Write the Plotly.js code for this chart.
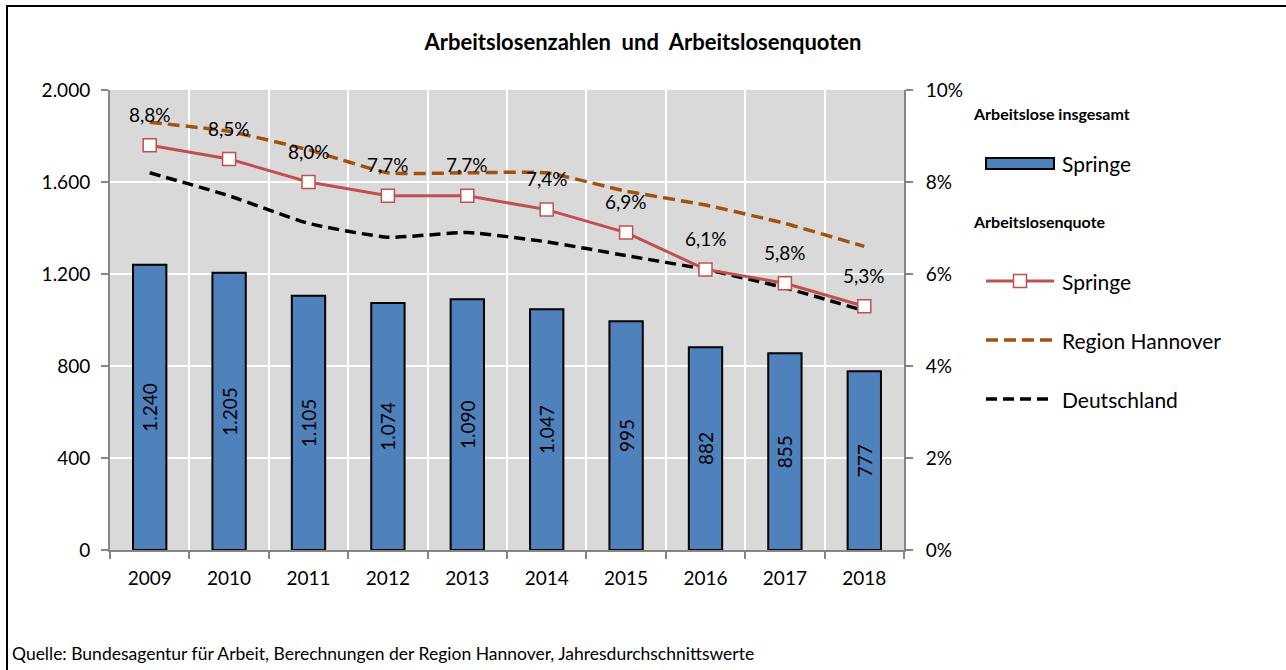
<!DOCTYPE html>
<html>
<head>
<meta charset="utf-8">
<script src="https://cdn.plot.ly/plotly-3.0.1.min.js"></script>
<style>
  html, body { margin: 0; padding: 0; background: #fff; }
  #wrap { position: relative; width: 1286px; height: 670px; overflow: hidden; }
  #chart { width: 1286px; height: 670px; }
  #frame { position: absolute; left: 6px; top: 5px; width: 1400px; height: 800px;
           border-left: 2px solid #000; border-top: 2px solid #000; pointer-events: none; }
</style>
</head>
<body>
<div id="wrap">
  <div id="chart"></div>
  <div id="frame"></div>
</div>
<script>
// ---- Data ----
const years = ['2009','2010','2011','2012','2013','2014','2015','2016','2017','2018'];
const arbeitsloseSpringe = [1240, 1205, 1105, 1074, 1090, 1047, 995, 882, 855, 777];
const quoteSpringe = [8.8, 8.5, 8.0, 7.7, 7.7, 7.4, 6.9, 6.1, 5.8, 5.3];
const quoteRegionHannover = [9.3, 9.1, 8.7, 8.2, 8.2, 8.2, 7.8, 7.5, 7.1, 6.6];
const quoteDeutschland = [8.2, 7.7, 7.1, 6.8, 6.9, 6.7, 6.4, 6.1, 5.7, 5.2];

const titleText = 'Arbeitslosenzahlen  und  Arbeitslosenquoten';
const sourceText = 'Quelle: Bundesagentur für Arbeit, Berechnungen der Region Hannover, Jahresdurchschnittswerte';
const legendGroup1 = 'Arbeitslose insgesamt';
const legendGroup2 = 'Arbeitslosenquote';
const seriesNames = ['Springe', 'Springe', 'Region Hannover', 'Deutschland'];

// ---- Styles ----
const FONT = 'Lato, "Open Sans", sans-serif';
const barColor = '#4f81bd';
const springeColor = '#c0504d';
const hannoverColor = '#a3520d';
const deColor = '#000000';
const axisColor = '#868686';

function pct(v) { return v.toFixed(1).replace('.', ',') + '%'; }

const traces = [
  {
    type: 'bar', x: years, y: arbeitsloseSpringe, name: seriesNames[0],
    width: 0.42,
    marker: { color: barColor, line: { color: '#000', width: 2 } },
    texttemplate: '%{y:,}', textposition: 'inside', insidetextanchor: 'middle',
    textangle: -90, constraintext: 'none',
    insidetextfont: { family: FONT, size: 19, color: '#000' },
    showlegend: false, hoverinfo: 'x+y'
  },
  {
    type: 'scatter', mode: 'lines', x: years, y: quoteRegionHannover, yaxis: 'y2',
    name: seriesNames[2], line: { color: hannoverColor, width: 3.5, dash: '12px,6px', shape: 'spline', smoothing: 0.45 },
    showlegend: false
  },
  {
    type: 'scatter', mode: 'lines', x: years, y: quoteDeutschland, yaxis: 'y2',
    name: seriesNames[3], line: { color: deColor, width: 3.5, dash: '11px,6px', shape: 'spline', smoothing: 0.5 },
    showlegend: false
  },
  {
    type: 'scatter', mode: 'lines+markers', x: years, y: quoteSpringe, yaxis: 'y2',
    name: seriesNames[1], line: { color: springeColor, width: 3 },
    marker: { symbol: 'square', size: 13, color: '#fff', line: { color: springeColor, width: 1.5 } },
    showlegend: false
  }
];

// value labels above the Springe line (x given as category index)
const annotations = years.map((yr, i) => ({
  x: i, y: quoteSpringe[i], xref: 'x', yref: 'y2',
  text: pct(quoteSpringe[i]), showarrow: false, yshift: 31,
  font: { family: FONT, size: 19, color: '#000' }
}));

// paper coordinate helpers for the legend block (plot area: x 110..904, y 90..550)
const L = 110, R = 904, T = 90, B = 550;
const px = v => (v - L) / (R - L);
const py = v => (B - v) / (B - T);

annotations.push(
  { xref: 'paper', yref: 'paper', x: px(971), y: py(113), xanchor: 'left', yanchor: 'middle',
    text: '<b>' + legendGroup1 + '</b>', showarrow: false, font: { family: FONT, size: 16, color: '#000' } },
  { xref: 'paper', yref: 'paper', x: px(971), y: py(221), xanchor: 'left', yanchor: 'middle',
    text: '<b>' + legendGroup2 + '</b>', showarrow: false, font: { family: FONT, size: 16, color: '#000' } },
  { xref: 'paper', yref: 'paper', x: px(1060), y: py(163), xanchor: 'left', yanchor: 'middle',
    text: seriesNames[0], showarrow: false, font: { family: FONT, size: 21, color: '#000' } },
  { xref: 'paper', yref: 'paper', x: px(1060), y: py(281), xanchor: 'left', yanchor: 'middle',
    text: seriesNames[1], showarrow: false, font: { family: FONT, size: 21, color: '#000' } },
  { xref: 'paper', yref: 'paper', x: px(1060), y: py(340), xanchor: 'left', yanchor: 'middle',
    text: seriesNames[2], showarrow: false, font: { family: FONT, size: 21, color: '#000' } },
  { xref: 'paper', yref: 'paper', x: px(1060), y: py(399), xanchor: 'left', yanchor: 'middle',
    text: seriesNames[3], showarrow: false, font: { family: FONT, size: 21, color: '#000' } },
  { xref: 'paper', yref: 'paper', x: px(10), y: py(653), xanchor: 'left', yanchor: 'middle',
    text: sourceText, showarrow: false, font: { family: FONT, size: 17.5, color: '#000' } }
);

const shapes = [
  { type: 'rect', xref: 'paper', yref: 'paper', x0: px(986), x1: px(1054), y0: py(169), y1: py(158),
    fillcolor: barColor, line: { color: '#000', width: 2 } },
  { type: 'line', xref: 'paper', yref: 'paper', x0: px(986), x1: px(1054), y0: py(281), y1: py(281),
    line: { color: springeColor, width: 3 } },
  { type: 'rect', xref: 'paper', yref: 'paper', x0: px(1013.5), x1: px(1026.5), y0: py(287.5), y1: py(274.5),
    fillcolor: '#fff', line: { color: springeColor, width: 1.5 } },
  { type: 'line', xref: 'paper', yref: 'paper', x0: px(986), x1: px(1054), y0: py(340), y1: py(340),
    line: { color: hannoverColor, width: 3.5, dash: '12px,6px' } },
  { type: 'line', xref: 'paper', yref: 'paper', x0: px(986), x1: px(1054), y0: py(399), y1: py(399),
    line: { color: deColor, width: 3.5, dash: '11px,6px' } }
];

const layout = {
  width: 1286, height: 670,
  margin: { l: L, r: 1286 - R, t: T, b: 670 - B, pad: 0 },
  paper_bgcolor: '#fff', plot_bgcolor: '#d9d9d9',
  separators: ',.',
  font: { family: FONT, size: 19, color: '#000' },
  title: { text: '<b>' + titleText + '</b>', x: 0.5, xref: 'container', xanchor: 'center',
           y: 1 - 42 / 670, yref: 'container', yanchor: 'middle',
           font: { family: FONT, size: 22, color: '#000' } },
  showlegend: false,
  xaxis: {
    type: 'category', range: [-0.5, years.length - 0.5], autorange: false,
    tickson: 'boundaries', ticks: 'outside', ticklen: 7, tickcolor: axisColor, tickwidth: 2,
    showline: true, linecolor: axisColor, linewidth: 2,
    showgrid: true, gridcolor: '#ffffff', gridwidth: 2,
    tickfont: { family: FONT, size: 19, color: '#000' }, ticklabelstandoff: 10, tickangle: 0,
    fixedrange: true
  },
  yaxis: {
    range: [0, 2000], dtick: 400, tick0: 0, separatethousands: true,
    ticks: 'outside', ticklen: 7, tickcolor: axisColor, tickwidth: 2,
    showline: true, linecolor: axisColor, linewidth: 2,
    showgrid: true, gridcolor: '#ffffff', gridwidth: 2, zeroline: false,
    tickfont: { family: FONT, size: 19, color: '#000' }, ticklabelstandoff: 7,
    fixedrange: true
  },
  yaxis2: {
    overlaying: 'y', side: 'right', range: [0, 10], dtick: 2, tick0: 0, ticksuffix: '%',
    ticks: 'outside', ticklen: 7, tickcolor: axisColor, tickwidth: 2,
    showline: true, linecolor: axisColor, linewidth: 2,
    showgrid: false, zeroline: false,
    tickfont: { family: FONT, size: 19, color: '#000' }, ticklabelstandoff: 9,
    fixedrange: true
  },
  annotations: annotations,
  shapes: shapes
};

Plotly.newPlot('chart', traces, layout, { displayModeBar: false, staticPlot: true });
</script>
</body>
</html>
